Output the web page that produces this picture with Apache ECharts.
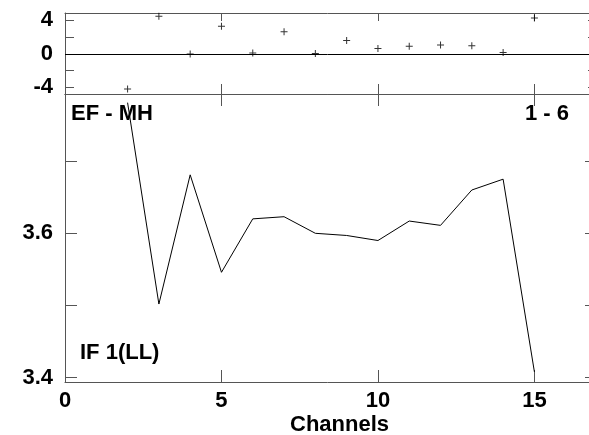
<!DOCTYPE html>
<html>
<head>
<meta charset="utf-8">
<script src="https://cdn.jsdelivr.net/npm/echarts@6/dist/echarts.min.js"></script>
<style>html,body{margin:0;padding:0;background:#fff;overflow:hidden}#c{width:589px;height:435px}</style>
</head>
<body>
<div id="c"></div>
<script>
// Data
var channels = [2, 3, 4, 5, 6, 7, 8, 9, 10, 11, 12, 13, 14, 15];
var residuals = [-4.2, 4.46, -0.04, 3.27, 0.08, 2.63, 0.04, 1.59, 0.64, 0.88, 1.04, 0.96, 0.16, 4.26];
var values = [3.781, 3.502, 3.681, 3.546, 3.620, 3.623, 3.600, 3.597, 3.590, 3.617, 3.611, 3.660, 3.675, 3.408];
var xTicks = [0, 5, 10, 15];
var resTicks = [-4, -2, 0, 2, 4];
var resLabels = [-4, 0, 4];
var valTicks = [3.4, 3.5, 3.6, 3.7];
var valLabels = [3.4, 3.6];
var topLeftLabel = 'EF - MH';
var topRightLabel = '1 - 6';
var panelLabel = 'IF 1(LL)';
var xTitle = 'Channels';

var FONT = 'Liberation Sans, Arial, Helvetica, sans-serif';
var FS = 22;
var FRAME = '#555';
var lblStyle = {color: '#000', fontFamily: FONT, fontWeight: 'bold', fontSize: FS};

function xAx(grid, pos, tickLen, showLabel) {
  return {
    type: 'value', gridIndex: grid, position: pos, min: 0, max: 17,
    axisLine: {show: true, onZero: false, lineStyle: {color: FRAME, width: 1}},
    axisTick: {show: true, inside: true, length: tickLen, customValues: [5, 10, 15], lineStyle: {color: FRAME}},
    axisLabel: Object.assign({show: showLabel, margin: 8, customValues: xTicks, formatter: function(v){return String(v);}}, lblStyle),
    splitLine: {show: false}
  };
}
function yAx(grid, pos, min, max, ticks, labels, tickLen, showLabel) {
  return {
    type: 'value', gridIndex: grid, position: pos, min: min, max: max,
    axisLine: {show: true, onZero: false, lineStyle: {color: FRAME, width: 1}},
    axisTick: {show: true, inside: true, length: tickLen, customValues: ticks, lineStyle: {color: FRAME}},
    axisLabel: Object.assign({show: showLabel, margin: 12, customValues: labels, formatter: function(v){return String(v);}}, lblStyle),
    splitLine: {show: false}
  };
}

var chart = echarts.init(document.getElementById('c'), null, {renderer: 'canvas'});
chart.setOption({
  animation: false,
  backgroundColor: '#fff',
  grid: [
    {left: 65, width: 532, top: 13, height: 81, containLabel: false, outerBoundsMode: 'none'},
    {left: 65, width: 532, top: 94, height: 288, containLabel: false, outerBoundsMode: 'none'}
  ],
  xAxis: [
    xAx(0, 'bottom', 10, false),
    xAx(0, 'top', 8, false),
    xAx(1, 'bottom', 12, true),
    xAx(1, 'top', 12, false)
  ],
  yAxis: [
    yAx(0, 'left', -4.8, 4.86, resTicks, resLabels, 9, true),
    yAx(0, 'right', -4.8, 4.86, resTicks, resLabels, 9, false),
    yAx(1, 'left', 3.394, 3.793, valTicks, valLabels, 12, true),
    yAx(1, 'right', 3.394, 3.793, valTicks, valLabels, 12, false)
  ],
  series: [
    {
      type: 'scatter', xAxisIndex: 0, yAxisIndex: 0,
      data: channels.map(function(c, i){return [c, residuals[i]];}),
      symbol: 'path://M0,3H7V4H0Z M3,0H4V7H3Z', symbolSize: 7,
      itemStyle: {color: '#000'},
      markLine: {
        silent: true, symbol: 'none', label: {show: false},
        lineStyle: {color: '#000', width: 1, type: 'solid'},
        data: [{yAxis: 0}]
      }
    },
    {
      type: 'line', xAxisIndex: 2, yAxisIndex: 2,
      data: channels.map(function(c, i){return [c, values[i]];}),
      symbol: 'none', lineStyle: {color: '#000', width: 1}
    }
  ],
  graphic: [
    {type: 'text', style: {text: topLeftLabel, x: 71, y: 113.5, textAlign: 'left', textVerticalAlign: 'middle', font: 'bold ' + FS + 'px ' + FONT, fill: '#000'}},
    {type: 'text', style: {text: topRightLabel, x: 569, y: 113.5, textAlign: 'right', textVerticalAlign: 'middle', font: 'bold ' + FS + 'px ' + FONT, fill: '#000'}},
    {type: 'text', style: {text: panelLabel, x: 80, y: 353, textAlign: 'left', textVerticalAlign: 'middle', font: 'bold ' + FS + 'px ' + FONT, fill: '#000'}},
    {type: 'text', style: {text: xTitle, x: 339.5, y: 425, textAlign: 'center', textVerticalAlign: 'middle', font: 'bold ' + FS + 'px ' + FONT, fill: '#000'}}
  ]
});
</script>
</body>
</html>
